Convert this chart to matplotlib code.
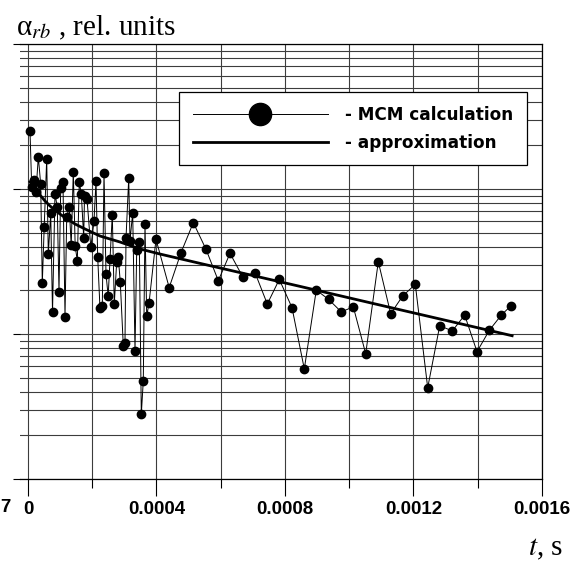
import numpy as np
import matplotlib
matplotlib.use('Agg')
import matplotlib.pyplot as plt
from matplotlib.ticker import MultipleLocator, LogLocator, NullFormatter, FuncFormatter, FixedLocator
from matplotlib.lines import Line2D

plt.rcParams['mathtext.fontset'] = 'stix'

# ---- data (time in units of 1e-4 s) ----
t_mcm_e4 = [0.062, 0.115, 0.187, 0.249, 0.321, 0.395, 0.445, 0.504, 0.582, 0.632,
            0.707, 0.763, 0.840, 0.912, 0.965, 1.018, 1.089, 1.152, 1.205, 1.283,
            1.345, 1.410, 1.469, 1.535, 1.597, 1.659, 1.734, 1.759, 1.837, 1.955,
            2.054, 2.117, 2.170, 2.241, 2.313, 2.366, 2.428, 2.496, 2.553, 2.624,
            2.686, 2.761, 2.811, 2.873, 2.967, 3.019, 3.051, 3.135, 3.175, 3.259,
            3.331, 3.384, 3.465, 3.527, 3.589, 3.642, 3.695, 3.767, 3.984, 4.395,
            4.763, 5.146, 5.541, 5.924, 6.288, 6.683, 7.066, 7.449, 7.823, 8.218,
            8.601, 8.974, 9.360, 9.753, 10.126, 10.512, 10.904, 11.290, 11.664, 12.056,
            12.442, 12.816, 13.208, 13.594, 13.977, 14.360, 14.733, 15.026]
alpha_mcm = [2.53, 1.04, 1.15, 0.958, 1.67, 1.08, 0.223, 0.544, 1.61, 0.355,
             0.680, 0.141, 0.928, 0.748, 0.196, 1.01, 1.11, 0.132, 0.639, 0.755,
             0.408, 1.32, 0.403, 0.320, 1.11, 0.928, 0.461, 0.888, 0.853, 0.395,
             0.599, 1.135, 0.338, 0.150, 0.156, 1.295, 0.259, 0.182, 0.329, 0.665,
             0.161, 0.315, 0.338, 0.227, 0.0827, 0.0863, 0.459, 1.185, 0.440, 0.687,
             0.0767, 0.380, 0.433, 0.0279, 0.0476, 0.574, 0.133, 0.163, 0.450, 0.209,
             0.364, 0.586, 0.384, 0.233, 0.360, 0.248, 0.265, 0.161, 0.238, 0.152,
             0.0574, 0.201, 0.173, 0.142, 0.154, 0.0731, 0.315, 0.138, 0.183, 0.220,
             0.0426, 0.114, 0.105, 0.135, 0.0755, 0.106, 0.135, 0.156]

t_fit_e4 = [0.062, 0.156, 0.249, 0.374, 0.529, 0.685, 0.840, 0.996, 1.214, 1.463,
            1.774, 2.241, 2.864, 3.486, 4.109, 5.354, 8.467, 11.58, 15.07]
alpha_fit = [1.12, 1.05, 0.984, 0.909, 0.827, 0.764, 0.716, 0.672, 0.621, 0.574,
             0.530, 0.474, 0.431, 0.386, 0.356, 0.307, 0.213, 0.147, 0.0973]

x_ticks = [0, 0.0004, 0.0008, 0.0012, 0.0016]
legend_labels = ['- MCM calculation', '- approximation']

t_mcm = np.array(t_mcm_e4) * 1e-4
t_fit = np.array(t_fit_e4) * 1e-4

W, H = 576, 565
fig = plt.figure(figsize=(W / 100, H / 100), dpi=100)
ax = fig.add_axes([20 / W, 1 - 479 / H, 522 / W, 435 / H])
ax.set_yscale('log')
ax.set_xlim(-2.49e-5, 0.0016)
ax.set_ylim(0.01, 10)

grid_c = '#3c3c3c'
ax.xaxis.set_major_locator(FixedLocator(x_ticks))
ax.xaxis.set_minor_locator(MultipleLocator(0.0002))
ax.yaxis.set_major_locator(LogLocator(base=10))
ax.yaxis.set_minor_locator(LogLocator(base=10, subs=range(2, 10)))
ax.yaxis.set_major_formatter(NullFormatter())
ax.yaxis.set_minor_formatter(NullFormatter())
ax.xaxis.set_major_formatter(FuncFormatter(lambda v, p: '0' if abs(v) < 1e-12 else f'{v:.4f}'))
ax.grid(True, which='both', axis='both', color=grid_c, lw=0.8)
ax.set_axisbelow(True)

ax.tick_params(axis='y', which='major', direction='out', length=5, width=0.8, color='black')
ax.tick_params(axis='y', which='minor', length=0)
ax.tick_params(axis='x', which='major', direction='out', length=12, width=0.8, pad=4)
ax.tick_params(axis='x', which='minor', direction='out', length=6.5, width=0.8)
for lab in ax.get_xticklabels():
    lab.set_fontfamily('Liberation Sans')
    lab.set_fontweight('bold')
    lab.set_fontsize(13.5)

ax.spines['left'].set_visible(False)
for s in ['top', 'right', 'bottom']:
    ax.spines[s].set_linewidth(0.9)

ax.plot(t_mcm, alpha_mcm, color='black', lw=0.7, marker='o', ms=6, zorder=3)
ax.plot(t_fit, alpha_fit, color='black', lw=2, zorder=4)

h1 = Line2D([], [], color='black', lw=0.7, marker='o', ms=16)
h2 = Line2D([], [], color='black', lw=2)
leg = ax.legend([h1, h2], legend_labels, loc='upper left',
                bbox_to_anchor=((179 - 20) / 522, (479 - 92) / 435),
                borderaxespad=0, fancybox=False, framealpha=1, edgecolor='black',
                prop={'family': 'DejaVu Sans', 'weight': 'bold', 'size': 12.2},
                handlelength=8.0, handletextpad=1.0, borderpad=0.8, labelspacing=0.6,
                numpoints=1)
leg.get_frame().set_linewidth(0.9)
leg.set_zorder(10)

fig.text(16 / W, 1 - 28 / H, 'α$_{rb}$ , rel. units', fontfamily='Liberation Serif',
         fontsize=21, va='center', ha='left')
fig.text(563 / W, 1 - 549 / H, '$t$, s', fontfamily='Liberation Serif',
         fontsize=21, va='center', ha='right')
fig.text(0, 1 - 508 / H, '7', fontfamily='Liberation Sans', fontweight='bold',
         fontsize=13.5, va='center', ha='left')

fig.savefig('out.png', dpi=100)
